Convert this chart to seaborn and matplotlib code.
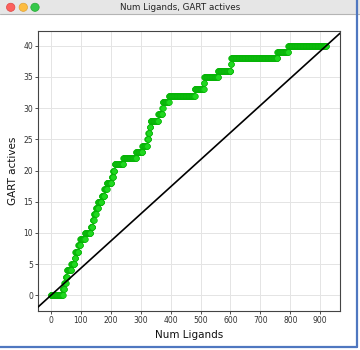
import numpy as np
import pandas as pd
import matplotlib
matplotlib.use("Agg")
import matplotlib.pyplot as plt
import seaborn as sns
from matplotlib.patches import Rectangle, Circle
from matplotlib.lines import Line2D

# ---- data ----
window_title = "Num Ligands, GART actives"
x_label = "Num Ligands"
y_label = "GART actives"
n_ligands = 920
n_actives = 40
# rank (ligand index) at which each successive active is found
hit_ranks = [40, 45, 50, 54, 68, 79, 82, 92, 98, 114,
             133, 140, 144, 151, 158, 170, 179, 187, 203, 208,
             213, 242, 285, 306, 322, 326, 330, 333, 359, 372,
             374, 395, 481, 511, 513, 559, 601, 603, 757, 793]
x_ticks = [0, 100, 200, 300, 400, 500, 600, 700, 800, 900]
y_ticks = [0, 5, 10, 15, 20, 25, 30, 35, 40]

ligand_idx = np.arange(n_ligands)
found = np.searchsorted(np.array(hit_ranks), ligand_idx, side="right")
df = pd.DataFrame({"ligands": ligand_idx, "actives": found})

# ---- figure ----
sns.set_theme(style="whitegrid")
plt.rcParams["font.family"] = ["DejaVu Sans"]
W, H = 360, 350
fig = plt.figure(figsize=(W / 100, H / 100), dpi=100)
fig.patch.set_facecolor("white")

def fx(px):
    return px / W

def fy(py):
    return 1 - py / H

# window title bar
fig.patches.append(Rectangle((0, fy(14)), 1, 14 / H, transform=fig.transFigure,
                             facecolor="#e6e6e6", edgecolor="none", zorder=0))
fig.lines.append(Line2D([0, 1], [fy(14), fy(14)], transform=fig.transFigure,
                        color="#b4b4b4", lw=0.8))
for cx, col, ec in [(10.7, "#fc605c", "#de4643"), (23.3, "#fdbc40", "#dea236"),
                    (35.0, "#34c84a", "#27aa35")]:
    fig.patches.append(Circle((fx(cx), fy(7.3)), 4.2 / W, transform=fig.transFigure,
                              facecolor=col, edgecolor=ec, lw=0.5))
fig.text(0.5, fy(7.3), window_title, ha="center", va="center",
         fontsize=6.3, color="#222222")
# window frame edges (blue)
fig.lines.append(Line2D([fx(356.5), fx(356.5)], [fy(346.5), 1], transform=fig.transFigure,
                        color="#4f77c0", lw=1.6))
fig.lines.append(Line2D([0, fx(356.5)], [fy(346.5), fy(346.5)], transform=fig.transFigure,
                        color="#4f77c0", lw=1.6))

ax = fig.add_axes([fx(38), fy(311), fx(340) - fx(38), (311 - 31) / H])
ax.set_facecolor("white")

sns.scatterplot(data=df, x="ligands", y="actives", ax=ax, color="#1fd81f",
                edgecolor="#06b006", linewidth=0.4, s=17, legend=False, zorder=3)
ax.axline((0, 0), slope=n_actives / n_ligands, color="black", lw=1.2, zorder=4)

ax.set_xlim(-43, 966)
ax.set_ylim(-2.5, 42.36)
ax.set_xticks(x_ticks)
ax.set_yticks(y_ticks)
ax.grid(True, color="#e4e4e4", lw=0.7)
ax.tick_params(axis="both", which="both", labelsize=5.5, colors="#333333",
               length=2, width=0.6, pad=1.5, direction="out",
               left=True, bottom=True)
for sp in ax.spines.values():
    sp.set_visible(True)
    sp.set_color("#444444")
    sp.set_linewidth(0.8)

ax.set_xlabel(x_label, fontsize=7.5, color="#111111", labelpad=4)
ax.set_ylabel(y_label, fontsize=7.5, color="#111111", labelpad=4)

fig.savefig("out.png", dpi=100)
